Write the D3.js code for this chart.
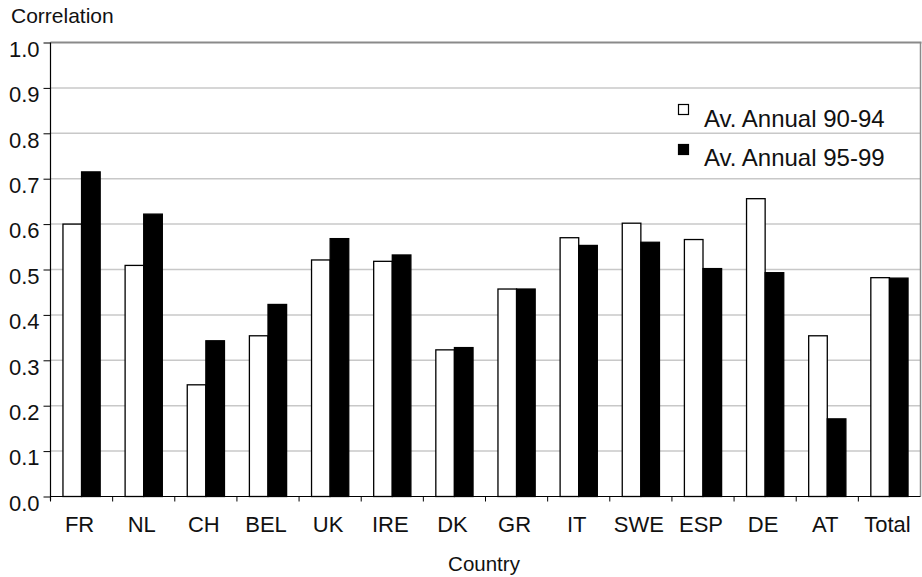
<!DOCTYPE html>
<html>
<head>
<meta charset="utf-8">
<script src="https://cdn.jsdelivr.net/npm/d3@7"></script>
<style>
  body { margin: 0; background: #fff; }
  svg { display: block; font-family: "Liberation Sans", Arial, sans-serif; }
</style>
</head>
<body>
<svg id="chart" width="922" height="577"></svg>
<script>
const categories = ["FR","NL","CH","BEL","UK","IRE","DK","GR","IT","SWE","ESP","DE","AT","Total"];
const seriesNames = ["Av. Annual 90-94","Av. Annual 95-99"];
const values9094 = [0.600,0.509,0.246,0.354,0.521,0.518,0.323,0.457,0.570,0.602,0.566,0.656,0.354,0.482];
const values9599 = [0.715,0.622,0.343,0.423,0.568,0.532,0.328,0.457,0.553,0.560,0.502,0.493,0.171,0.481];
const yTicks = [0,0.1,0.2,0.3,0.4,0.5,0.6,0.7,0.8,0.9,1.0];
const yTitle = "Correlation";
const xTitle = "Country";

(function () {
const seriesFill = ["#ffffff","#000000"];
const svg = d3.select("#chart");

const pLeft = 50.5, pRight = 920.5, pTop = 42.5, pBottom = 496.5;

const x0 = d3.scaleBand().domain(categories).range([pLeft, pRight]).paddingInner(0).paddingOuter(0);
const x1 = d3.scaleBand().domain(seriesNames).range([0, x0.bandwidth()]).paddingInner(0).paddingOuter(0.67);
const y = d3.scaleLinear().domain([0, 1]).range([pBottom, pTop]);

// gridlines
svg.append("g").selectAll("line").data(yTicks.filter(t => t > 0 && t < 1)).join("line")
  .attr("x1", pLeft).attr("x2", pRight)
  .attr("y1", d => y(d)).attr("y2", d => y(d))
  .attr("stroke", "#c8c8c8").attr("stroke-width", 1.5);

// top and right frame
svg.append("line").attr("x1", pLeft).attr("x2", pRight + 1).attr("y1", y(1)).attr("y2", y(1))
  .attr("stroke", "#8a8a8a").attr("stroke-width", 2);
svg.append("line").attr("x1", pRight).attr("x2", pRight).attr("y1", y(1)).attr("y2", pBottom)
  .attr("stroke", "#8a8a8a").attr("stroke-width", 1.5);

// bars
const rows = categories.map((c, i) => ({ c, vals: [values9094[i], values9599[i]] }));
const groups = svg.append("g").selectAll("g").data(rows).join("g")
  .attr("transform", d => `translate(${x0(d.c)},0)`);
groups.selectAll("rect").data(d => d.vals.map((v, j) => ({ v, j }))).join("rect")
  .attr("x", d => x1(seriesNames[d.j]))
  .attr("width", x1.bandwidth())
  .attr("y", d => y(d.v))
  .attr("height", d => y(0) - y(d.v))
  .attr("fill", d => seriesFill[d.j])
  .attr("stroke", "#000").attr("stroke-width", 1.3);

// y axis
const yAxis = d3.axisLeft(y).tickValues(yTicks).tickFormat(d3.format(".1f")).tickSize(7).tickPadding(4);
const gy = svg.append("g").attr("transform", `translate(${pLeft},0)`).call(yAxis);
gy.attr("font-size", null).attr("font-family", null);
gy.select(".domain").attr("d", `M0,${pTop}V${pBottom + 4}`).attr("stroke", "#000").attr("stroke-width", 1.2);
gy.selectAll(".tick line").attr("stroke", "#000");
gy.selectAll(".tick text").style("font-size", "22px").attr("fill", "#111").attr("dy", 0).attr("y", 13.7)
  .style("font-family", "'Liberation Sans', Arial, sans-serif");

// x axis
const gx = svg.append("g").attr("transform", `translate(0,${pBottom})`);
gx.append("line").attr("x1", pLeft).attr("x2", pRight).attr("y1", 0).attr("y2", 0).attr("stroke", "#000").attr("stroke-width", 1.2);
gx.selectAll("line.tk").data(categories).join("line").attr("class", "tk")
  .attr("x1", d => x0(d)).attr("x2", d => x0(d)).attr("y1", 0).attr("y2", 5)
  .attr("stroke", "#000");
gx.selectAll("text").data(categories).join("text")
  .attr("x", d => x0(d) + x0.bandwidth() / 2 - 2)
  .attr("y", 35)
  .attr("text-anchor", "middle")
  .attr("font-size", 22).attr("fill", "#111")
  .text(d => d);

// titles
svg.append("text").attr("x", 11).attr("y", 23).attr("font-size", 21).attr("fill", "#111").text(yTitle);
svg.append("text").attr("x", 484).attr("y", 571).attr("text-anchor", "middle").attr("font-size", 20.5).attr("fill", "#111").text(xTitle);

// legend
const legend = svg.append("g").selectAll("g").data(seriesNames).join("g");
legend.append("rect")
  .attr("x", 678.5).attr("y", (d, i) => 104.5 + i * 40)
  .attr("width", 10).attr("height", 10)
  .attr("fill", (d, i) => seriesFill[i]).attr("stroke", "#000").attr("stroke-width", 1.2);
legend.append("text")
  .attr("x", 704).attr("y", (d, i) => 127 + i * 38.5)
  .attr("font-size", 24).attr("fill", "#111")
  .text(d => d);
})();
</script>
</body>
</html>
